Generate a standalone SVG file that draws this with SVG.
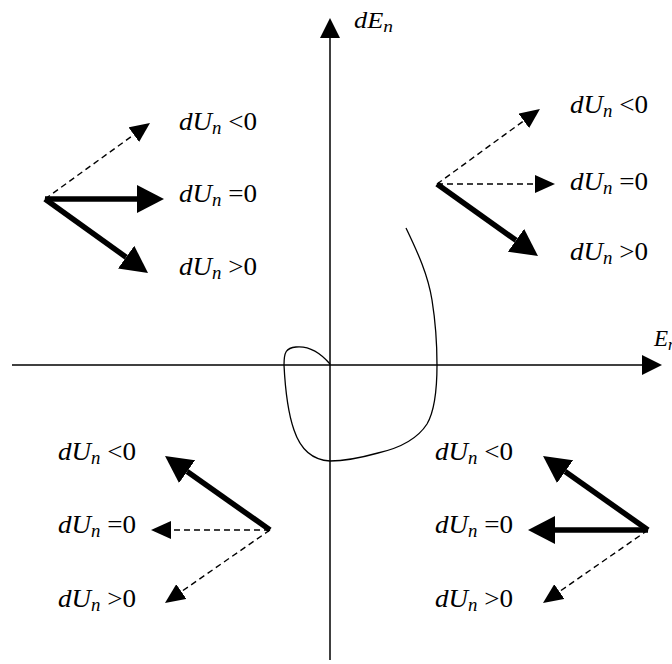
<svg xmlns="http://www.w3.org/2000/svg" width="672" height="664" viewBox="0 0 672 664">
<style>
.lbl{font-family:"Liberation Serif","Times New Roman",serif;font-size:26px;fill:#000}
.it{font-style:italic}
.sub{font-style:italic;font-size:18px}
.axis{stroke:#000;stroke-width:1.5;fill:none}
.dash{stroke:#000;stroke-width:1.4;stroke-dasharray:6,4;fill:none}
.thick{stroke:#000;stroke-width:5.5;fill:none}
</style>
<defs>
<marker id="ax" markerUnits="userSpaceOnUse" markerWidth="20" markerHeight="20" viewBox="0 0 20 20" refX="0" refY="10" orient="auto"><path d="M0,0 L20,10 L0,20 z" fill="#000"/></marker>
<marker id="sm" markerUnits="userSpaceOnUse" markerWidth="20" markerHeight="18" viewBox="0 0 20 18" refX="0" refY="9" orient="auto"><path d="M0,0 L20,9 L0,18 z" fill="#000"/></marker>
<marker id="lg" markerUnits="userSpaceOnUse" markerWidth="27" markerHeight="28" viewBox="0 0 27 28" refX="0" refY="14" orient="auto"><path d="M0,0 L27,14 L0,28 z" fill="#000"/></marker>
</defs>
<g id="axes">
<line class="axis" x1="330" y1="660" x2="330" y2="38" marker-end="url(#ax)"/>
<line class="axis" x1="12" y1="365" x2="642" y2="365" marker-end="url(#ax)"/>
<text class="lbl it" x="354" y="28" style="font-size:23px" textLength="39" lengthAdjust="spacingAndGlyphs">dE<tspan class="sub" dy="4" style="font-size:17px">n</tspan></text>
<text class="lbl it" x="654" y="346" style="font-size:23px">E<tspan class="sub" dy="4" style="font-size:17px">n</tspan></text>
</g>
<g id="trajectory">
<path d="M406,228 C418,253 428,275 432,300 C436,325 437,345 437,365 C437,395 434,412 427,424 C418,438 400,448 378,453 C360,458 345,461 330,461 C312,460 300,448 294,430 C287,410 285,385 284,365 C284,352 286,348 296,347 C306,346 318,350 330,364" fill="none" stroke="#000" stroke-width="1.3"/>
</g>
<g id="connectors">
<line class="dash" x1="45" y1="199" x2="133.8" y2="134.7" marker-end="url(#sm)"/>
<line class="thick" x1="45" y1="199" x2="137" y2="199" marker-end="url(#lg)"/>
<line class="thick" x1="45" y1="199" x2="126.1" y2="257.2" marker-end="url(#lg)"/>
<line class="dash" x1="437" y1="184" x2="523.8" y2="120.8" marker-end="url(#sm)"/>
<line class="dash" x1="437" y1="184" x2="535" y2="184" marker-end="url(#sm)"/>
<line class="thick" x1="437" y1="184" x2="516" y2="240.3" marker-end="url(#lg)"/>
<line class="thick" x1="270" y1="530" x2="187.1" y2="471.6" marker-end="url(#lg)"/>
<line class="dash" x1="270" y1="530" x2="171" y2="530" marker-end="url(#sm)"/>
<line class="dash" x1="270" y1="530" x2="181.4" y2="591.6" marker-end="url(#sm)"/>
<line class="thick" x1="648" y1="530" x2="565.1" y2="471.6" marker-end="url(#lg)"/>
<line class="thick" x1="648" y1="530" x2="555" y2="530" marker-end="url(#lg)"/>
<line class="dash" x1="648" y1="530" x2="559.4" y2="591.6" marker-end="url(#sm)"/>
</g>
<g id="top-left">
<text class="lbl" x="179" y="130" textLength="78" lengthAdjust="spacingAndGlyphs"><tspan class="it">dU</tspan><tspan class="sub" dy="4">n</tspan><tspan dy="-4"> &lt;0</tspan></text>
<text class="lbl" x="179" y="202" textLength="78" lengthAdjust="spacingAndGlyphs"><tspan class="it">dU</tspan><tspan class="sub" dy="4">n</tspan><tspan dy="-4"> =0</tspan></text>
<text class="lbl" x="179" y="275" textLength="78" lengthAdjust="spacingAndGlyphs"><tspan class="it">dU</tspan><tspan class="sub" dy="4">n</tspan><tspan dy="-4"> &gt;0</tspan></text>
</g>
<g id="top-right">
<text class="lbl" x="570" y="113" textLength="78" lengthAdjust="spacingAndGlyphs"><tspan class="it">dU</tspan><tspan class="sub" dy="4">n</tspan><tspan dy="-4"> &lt;0</tspan></text>
<text class="lbl" x="570" y="190" textLength="78" lengthAdjust="spacingAndGlyphs"><tspan class="it">dU</tspan><tspan class="sub" dy="4">n</tspan><tspan dy="-4"> =0</tspan></text>
<text class="lbl" x="570" y="260" textLength="78" lengthAdjust="spacingAndGlyphs"><tspan class="it">dU</tspan><tspan class="sub" dy="4">n</tspan><tspan dy="-4"> &gt;0</tspan></text>
</g>
<g id="bottom-left">
<text class="lbl" x="58" y="460" textLength="78" lengthAdjust="spacingAndGlyphs"><tspan class="it">dU</tspan><tspan class="sub" dy="4">n</tspan><tspan dy="-4"> &lt;0</tspan></text>
<text class="lbl" x="58" y="533" textLength="78" lengthAdjust="spacingAndGlyphs"><tspan class="it">dU</tspan><tspan class="sub" dy="4">n</tspan><tspan dy="-4"> =0</tspan></text>
<text class="lbl" x="58" y="607" textLength="78" lengthAdjust="spacingAndGlyphs"><tspan class="it">dU</tspan><tspan class="sub" dy="4">n</tspan><tspan dy="-4"> &gt;0</tspan></text>
</g>
<g id="bottom-right">
<text class="lbl" x="435" y="460" textLength="78" lengthAdjust="spacingAndGlyphs"><tspan class="it">dU</tspan><tspan class="sub" dy="4">n</tspan><tspan dy="-4"> &lt;0</tspan></text>
<text class="lbl" x="435" y="533" textLength="78" lengthAdjust="spacingAndGlyphs"><tspan class="it">dU</tspan><tspan class="sub" dy="4">n</tspan><tspan dy="-4"> =0</tspan></text>
<text class="lbl" x="435" y="607" textLength="78" lengthAdjust="spacingAndGlyphs"><tspan class="it">dU</tspan><tspan class="sub" dy="4">n</tspan><tspan dy="-4"> &gt;0</tspan></text>
</g>
</svg>
